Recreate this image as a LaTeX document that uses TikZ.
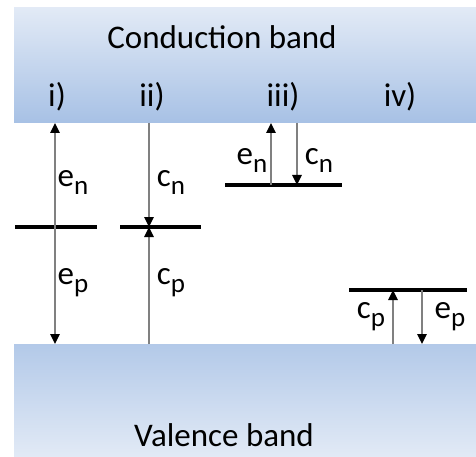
\documentclass[tikz,border=0pt]{standalone}
\usepackage{fontspec}
\setmainfont{Carlito}
\usetikzlibrary{arrows.meta}

\definecolor{bandpale}{HTML}{E2EAF6}
\definecolor{bandblue}{HTML}{A7C1E5}
\newcommand{\ratesym}[2]{#1\raisebox{-8pt}{\fontsize{27}{27}\selectfont #2}}

\begin{document}
\begin{tikzpicture}[x=1pt, y=-1pt,
  level/.style={line width=3.5pt},
  rate/.style={draw=black!50, line width=1.3pt,
    -{Triangle[width=9.5pt, length=10pt, black]}},
  lbl/.style={font=\fontsize{33}{36}\selectfont, inner sep=0pt}
]
  \useasboundingbox (0,0) rectangle (476,457);

  % bands
  \shade[top color=bandpale, bottom color=bandblue] (14,8) rectangle (476,123);
  \shade[top color=bandblue!80!bandpale, middle color=bandblue, bottom color=bandpale]
    (14,344) rectangle (476,457);
  \node[lbl] (cb) at (222,37) {Conduction band};
  \node[lbl] (vb) at (224,435) {Valence band};

  % case labels
  \node[lbl] (c1) at (57,97)  {i)};
  \node[lbl] (c2) at (152,97) {ii)};
  \node[lbl] (c3) at (283,97) {iii)};
  \node[lbl] (c4) at (400,97) {iv)};

  % trap levels
  \draw[level] (15,227) coordinate (t1w) -- (97,227) coordinate (t1e);
  \draw[level] (120,227) coordinate (t2w) -- (201,227) coordinate (t2e);
  \draw[level] (225,185) coordinate (t3w) -- (342,185) coordinate (t3e);
  \draw[level] (349,290) coordinate (t4w) -- (467,290) coordinate (t4e);

  % i)
  \coordinate (a1) at (55,227);
  \coordinate (a1t) at (55,123);
  \coordinate (a1b) at (55,344);
  \draw[rate] (a1) -- (a1t);
  \draw[rate] (a1) -- (a1b);
  \node[lbl] (en1) at (73,182) {\ratesym{e}{n}};
  \node[lbl] (ep1) at (73,283) {\ratesym{e}{p}};

  % ii)
  \coordinate (a2) at (149,227);
  \coordinate (a2t) at (149,123);
  \coordinate (a2b) at (149,344);
  \draw[rate] (a2t) -- (a2);
  \draw[rate] (a2b) -- (a2);
  \node[lbl] (cn2) at (171,182) {\ratesym{c}{n}};
  \node[lbl] (cp2) at (171,283) {\ratesym{c}{p}};

  % iii)
  \coordinate (a3u) at (271,185);
  \coordinate (a3ut) at (271,123);
  \coordinate (a3d) at (297,185);
  \coordinate (a3dt) at (297,123);
  \draw[rate] (a3u) -- (a3ut);
  \draw[rate] (a3dt) -- (a3d);
  \node[lbl] (en3) at (252,160) {\ratesym{e}{n}};
  \node[lbl] (cn3) at (319,160) {\ratesym{c}{n}};

  % iv)
  \coordinate (a4u) at (393,290);
  \coordinate (a4ub) at (393,344);
  \coordinate (a4d) at (422,290);
  \coordinate (a4db) at (422,344);
  \draw[rate] (a4ub) -- (a4u);
  \draw[rate] (a4d) -- (a4db);
  \node[lbl] (cp4) at (371,317) {\ratesym{c}{p}};
  \node[lbl] (ep4) at (450,317) {\ratesym{e}{p}};
\end{tikzpicture}
\end{document}
